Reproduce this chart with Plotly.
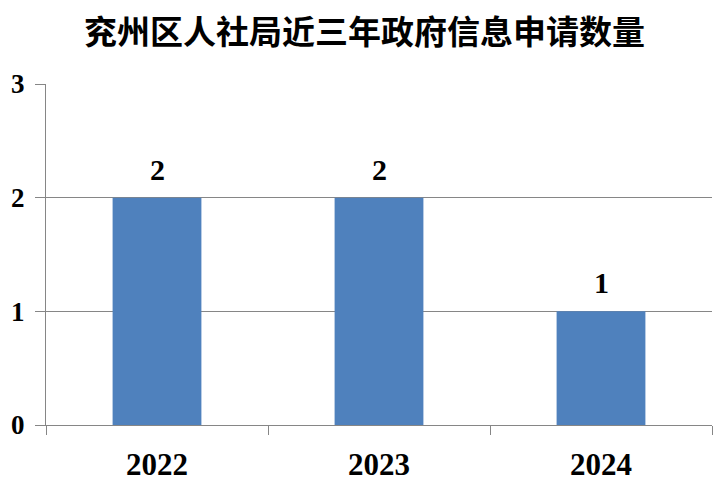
import plotly.graph_objects as go

years = ["2022", "2023", "2024"]
counts = [2, 2, 1]
y_ticks = [0, 1, 2, 3]

serif = "Liberation Serif, Times New Roman, serif"

fig = go.Figure(go.Bar(
    x=years, y=counts, width=0.4,
    marker=dict(color="#4F81BD", line=dict(width=0)),
    cliponaxis=False,
))

# data labels (category axis: position by category index)
for i, v in enumerate(counts):
    fig.add_annotation(
        x=i, y=v, text=f"<b>{v}</b>", showarrow=False,
        xanchor="center", yanchor="bottom", yshift=10,
        font=dict(family=serif, size=30, color="black"),
    )

fig.update_layout(
    width=713, height=474,
    margin=dict(l=38, r=9, t=76, b=57, autoexpand=False),
    paper_bgcolor="white", plot_bgcolor="white",
    showlegend=False,
    title=dict(text="<b>兖州区人社局近三年政府信息申请数量</b>",
               x=0.5, xanchor="center", y=0.948, yanchor="middle",
               font=dict(family="Noto Sans CJK SC", size=33, color="black")),
    font=dict(family=serif, color="black"),
)
fig.update_yaxes(
    range=[0, 3], tickvals=y_ticks, ticktext=[f"<b>{v}</b>" for v in y_ticks],
    showgrid=True, gridcolor="#868686", gridwidth=1,
    showline=True, linecolor="#868686", linewidth=1,
    ticks="outside", ticklen=10, tickcolor="#868686",
    tickfont=dict(family=serif, size=27, color="black"),
    ticklabelstandoff=5, zeroline=False, automargin=False,
)
fig.update_xaxes(
    type="category", categoryorder="array", categoryarray=years,
    range=[-0.5, len(years) - 0.5],
    tickvals=years, ticktext=[f"<b>{y}</b>" for y in years],
    showgrid=False, showline=True, linecolor="#868686", linewidth=1,
    ticks="outside", ticklen=9, tickcolor="#868686", tickson="boundaries",
    tickfont=dict(family=serif, size=31, color="black"),
    ticklabelstandoff=12, automargin=False,
)

fig.write_html("out.html")
